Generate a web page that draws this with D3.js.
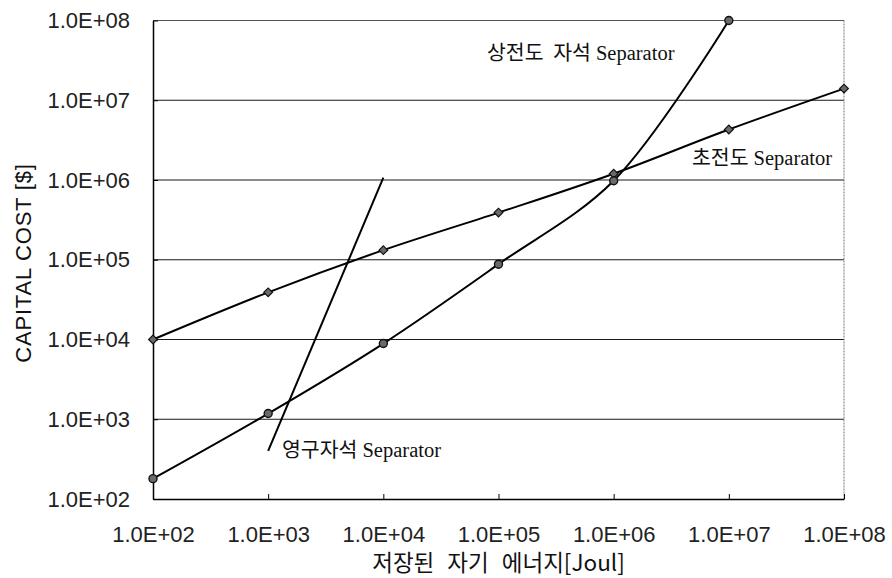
<!DOCTYPE html>
<html>
<head>
<meta charset="utf-8">
<script src="https://cdn.jsdelivr.net/npm/d3@7"></script>
<style>
  html, body { margin: 0; padding: 0; background: #fff; }
  svg { display: block; }
</style>
</head>
<body>
<svg id="chart" width="892" height="578"></svg>
<script>
// ---- data ----
const tickValues = [1e2, 1e3, 1e4, 1e5, 1e6, 1e7, 1e8];
const tickLabels = ["1.0E+02", "1.0E+03", "1.0E+04", "1.0E+05", "1.0E+06", "1.0E+07", "1.0E+08"];

const scEnergy = [1e2, 1e3, 1e4, 1e5, 1e6, 1e7, 1e8];
const scCost   = [1.0e4, 3.9e4, 1.32e5, 3.9e5, 1.2e6, 4.3e6, 1.4e7];          // 초전도 Separator

const ncEnergy = [1e2, 1e3, 1e4, 1e5, 1e6, 1e7];
const ncCost   = [1.8e2, 1.18e3, 8.9e3, 8.8e4, 9.8e5, 1.0e8];                 // 상전도 자석 Separator

const pmEnergy = [1e3, 1e4];
const pmCost   = [4.0e2, 1.07e6];                                             // 영구자석 Separator

const xTitle = "저장된 자기 에너지[Joul]";
const yTitle = "CAPITAL COST [$]";

// ---- layout ----
const svg = d3.select("#chart");
const L = 153, R = 844, T = 20.5, B = 499;
const x = d3.scaleLog().domain([1e2, 1e8]).range([L, R]);
const y = d3.scaleLog().domain([1e2, 1e8]).range([B, T]);

const latin = "'Liberation Sans', Arial, sans-serif";
const kor = "'Noto Sans CJK KR', sans-serif";
const serif = "'Liberation Serif', 'Times New Roman', serif";

// gridlines
svg.append("g").selectAll("line")
  .data(tickValues.slice(1, -1))
  .join("line")
  .attr("x1", L).attr("x2", R)
  .attr("y1", d => y(d)).attr("y2", d => y(d))
  .attr("stroke", "#1a1a1a").attr("stroke-width", 1.2);

// top and right border (light)
svg.append("line").attr("x1", L).attr("x2", R).attr("y1", y(1e8)).attr("y2", y(1e8))
  .attr("stroke", "#555").attr("stroke-width", 1);
svg.append("line").attr("x1", R).attr("x2", R).attr("y1", T).attr("y2", B)
  .attr("stroke", "#777").attr("stroke-width", 1).attr("stroke-dasharray", "2,1");

// axes
const xAxis = d3.axisBottom(x).tickValues(tickValues)
  .tickFormat((d, i) => tickLabels[i]).tickSizeInner(-5).tickSizeOuter(0).tickPadding(27);
const gx = svg.append("g").attr("transform", `translate(0,${B})`).call(xAxis);
gx.select(".domain").attr("stroke", "#000").attr("stroke-width", 1.5);
gx.selectAll(".tick line").attr("stroke", "#000");
gx.selectAll("text").attr("font-family", latin).attr("font-size", 22).attr("fill", "#222");

const yAxis = d3.axisLeft(y).tickValues(tickValues)
  .tickFormat((d, i) => tickLabels[i]).tickSizeInner(-5).tickSizeOuter(0).tickPadding(23);
const gy = svg.append("g").attr("transform", `translate(${L},0)`).call(yAxis);
gy.select(".domain").attr("stroke", "#000").attr("stroke-width", 1.5);
gy.selectAll(".tick line").attr("stroke", "#000");
gy.selectAll("text").attr("font-family", latin).attr("font-size", 22).attr("fill", "#222");

// lines
const mk = (xs, ys) => xs.map((v, i) => [v, ys[i]]);
const lineGen = d3.line().x(d => x(d[0])).y(d => y(d[1])).curve(d3.curveCatmullRom.alpha(0.5));
const straight = d3.line().x(d => x(d[0])).y(d => y(d[1]));

const sc = mk(scEnergy, scCost), nc = mk(ncEnergy, ncCost), pm = mk(pmEnergy, pmCost);

svg.append("path").attr("d", lineGen(sc)).attr("fill", "none").attr("stroke", "#000").attr("stroke-width", 2);
svg.append("path").attr("d", lineGen(nc)).attr("fill", "none").attr("stroke", "#000").attr("stroke-width", 2);
svg.append("path").attr("d", straight(pm)).attr("fill", "none").attr("stroke", "#000").attr("stroke-width", 2);

// markers
svg.append("g").selectAll("path").data(sc).join("path")
  .attr("d", d3.symbol().type(d3.symbolSquare).size(38))
  .attr("transform", d => `translate(${x(d[0])},${y(d[1])}) rotate(45)`)
  .attr("fill", "#6a6a6a").attr("stroke", "#111").attr("stroke-width", 1.2);
svg.append("g").selectAll("circle").data(nc).join("circle")
  .attr("cx", d => x(d[0])).attr("cy", d => y(d[1])).attr("r", 4)
  .attr("fill", "#6a6a6a").attr("stroke", "#111").attr("stroke-width", 1.4);

// series labels
function label(px, py, k, size) {
  const t = svg.append("text").attr("x", px).attr("y", py).attr("font-size", size).attr("fill", "#111");
  t.append("tspan").attr("font-family", kor).attr("word-spacing", 5).text(k);
  t.append("tspan").attr("font-family", serif).attr("dx", 5).text("Separator");
}
label(487, 60, "상전도 자석", 20.5);
label(692, 165, "초전도", 20.5);
label(282, 457, "영구자석", 20.5);

// axis titles
svg.append("text").attr("x", (L + R) / 2).attr("y", 571).attr("text-anchor", "middle")
  .attr("font-family", kor).attr("font-size", 22.5).attr("word-spacing", 8).attr("fill", "#111")
  .text(xTitle);
svg.append("text").attr("transform", "translate(31,263) rotate(-90)").attr("text-anchor", "middle")
  .attr("font-family", latin).attr("font-size", 22).attr("letter-spacing", 0.8).attr("fill", "#111")
  .text(yTitle);
</script>
</body>
</html>
